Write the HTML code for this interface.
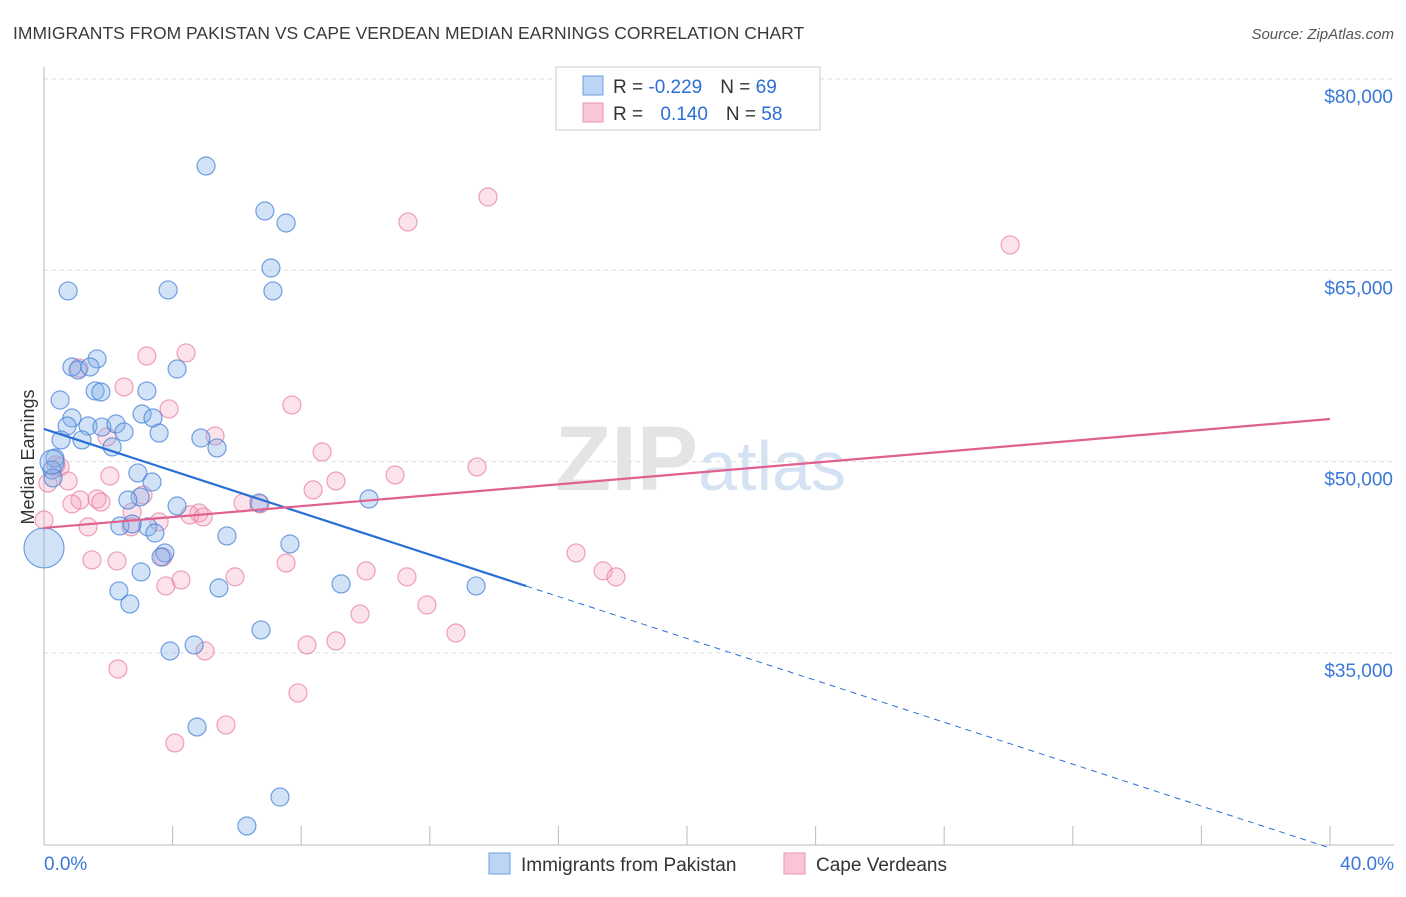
<!DOCTYPE html>
<html><head><meta charset="utf-8"><style>
body{margin:0;background:#fff;font-family:"Liberation Sans",sans-serif;}
svg text{font-family:"Liberation Sans",sans-serif;}
</style></head><body>
<svg id="chart" width="1406" height="892" xmlns="http://www.w3.org/2000/svg">
<text x="13" y="39" font-size="17.5" fill="#3a3a3a">IMMIGRANTS FROM PAKISTAN VS CAPE VERDEAN MEDIAN EARNINGS CORRELATION CHART</text>
<text x="1394" y="39" font-size="15" fill="#555" text-anchor="end" font-style="italic">Source: ZipAtlas.com</text>
<text x="555" y="490" font-size="92" fill="#e4e4e4" font-family="Liberation Serif" font-weight="bold">ZIP<tspan fill="#d4e2f3" font-family="Liberation Sans" font-weight="normal" font-size="70">atlas</tspan></text>
<text transform="translate(34,457) rotate(-90)" font-size="18" fill="#333" text-anchor="middle">Median Earnings</text>
<g id="grid"></g><g id="axes"></g><g id="pts"></g><g id="lines"></g>
<g>
<rect x="556" y="67" width="264" height="63" fill="#fff" stroke="#ccc"/>
<rect x="583" y="76" width="20" height="19" fill="#bcd5f5" stroke="#6d9de0"/>
<rect x="583" y="103" width="20" height="19" fill="#f9c6d5" stroke="#eb95b2"/>
<text x="613" y="93" font-size="19" fill="#333">R = <tspan fill="#2a6fd6">-0.229</tspan><tspan dx="18">N = </tspan><tspan fill="#2a6fd6">69</tspan></text>
<text x="613" y="120" font-size="19" fill="#333">R = <tspan fill="#2a6fd6" dx="12">0.140</tspan><tspan dx="18">N = </tspan><tspan fill="#2a6fd6">58</tspan></text>
</g>
<g>
<rect x="489" y="853" width="21" height="21" fill="#bcd5f5" stroke="#6d9de0"/>
<text x="521" y="871" font-size="19" fill="#333">Immigrants from Pakistan</text>
<rect x="784" y="853" width="21" height="21" fill="#f9c6d5" stroke="#eb95b2"/>
<text x="816" y="871" font-size="19" fill="#333">Cape Verdeans</text>
</g>
</svg>
<script>
const yTicks=[35000,50000,65000,80000];
const yTickLabels=["$35,000","$50,000","$65,000","$80,000"];
const xTicks=[0,4,8,12,16,20,24,28,32,36,40];
const xEndLabels=["0.0%","40.0%"];
const blueX=[5.04,6.87,7.53,7.06,0.75,3.86,7.12,1.65,0.87,1.06,1.43,4.14,1.59,1.77,3.20,0.50,3.05,3.39,0.87,0.72,1.37,1.80,2.24,2.49,1.18,0.53,3.58,4.88,5.38,2.12,0.34,0.25,2.92,0.28,3.36,2.99,2.61,10.11,4.14,6.69,3.23,2.36,2.74,3.45,5.69,7.65,3.76,3.64,3.02,9.24,13.44,5.44,2.33,2.67,6.75,4.67,3.92,4.76,7.34,6.31,0,0.25];
const blueY=[73180,69650,68710,65180,63380,63460,63380,58050,57420,57190,57420,57260,55540,55460,55540,54830,53730,53420,53420,52790,52790,52710,52950,52320,51700,51700,52240,51850,51070,51150,50280,49340,49110,48720,48400,47230,46990,47070,46520,46760,44880,44950,45110,44400,44170,43540,42840,42520,41350,40410,40250,40090,39860,38840,36800,35620,35150,29190,23700,21430,43230,49970];
const blueR=[9,9,9,9,9,9,9,9,9,9,9,9,9,9,9,9,9,9,9,9,9,9,9,9,9,9,9,9,9,9,9,9,9,9,9,9,9,9,9,9,9,9,9,9,9,9,9,9,9,9,9,9,9,9,9,9,9,9,9,9,20,12];
const pinkX=[13.81,11.32,30.05,4.42,3.20,2.49,1.09,7.71,3.89,5.32,1.96,8.65,0.50,13.47,10.92,9.08,8.37,0.75,2.05,3.08,1.65,1.12,1.77,0.87,6.19,6.72,4.82,4.54,4.95,2.74,2.71,1.37,0,3.70,1.49,2.27,16.55,17.39,17.79,10.02,11.29,7.53,5.94,4.26,3.79,11.91,9.83,12.81,9.08,8.18,5.01,2.30,7.90,5.66,4.07,0.12,0.37,3.58];
const pinkY=[70750,68790,66990,58520,58280,55850,57340,54440,54130,52010,51930,50760,49580,49580,48950,48480,47780,48480,48870,47380,47070,46990,46830,46680,46760,46680,45970,45820,45660,46050,44880,44880,45420,42520,42290,42210,42840,41430,40960,41430,40960,42050,40960,40720,40250,38760,38050,36560,35940,35620,35150,33740,31860,29350,27940,48320,49740,45270];
const blueFit=[52560,-821.4];
const pinkFit=[44800,213.5];
const NS="http://www.w3.org/2000/svg";
const X=v=>44+v/40*1286;
const Y=v=>79+(80000-v)/15000*191.3;
function mk(tag,attrs,parent){const e=document.createElementNS(NS,tag);for(const k in attrs)e.setAttribute(k,attrs[k]);document.getElementById(parent).appendChild(e);return e;}
yTicks.forEach((t,i)=>{
 const l=mk('line',{x1:44,x2:1394,y1:Y(t),y2:Y(t),stroke:'#ddd','stroke-dasharray':'4,4'},'grid');
 
 
 const tx=mk('text',{x:1393,y:Y(t)+24,'font-size':19,fill:'#3a78d8','text-anchor':'end'},'axes');
 tx.textContent=yTickLabels[i];
 
 
});
const topG=mk('line',{x1:44,x2:1394,y1:79,y2:79,stroke:'#ddd','stroke-dasharray':'4,4'},'grid');


const ya=mk('line',{x1:44,x2:44,y1:67,y2:845,stroke:'#bbb'},'axes');


const xa=mk('line',{x1:44,x2:1394,y1:845,y2:845,stroke:'#bbb'},'axes');


xTicks.forEach(t=>{
 const l=mk('line',{x1:X(t),x2:X(t),y1:826,y2:845,stroke:'#bbb'},'axes');
 
 
});
const xl0=mk('text',{x:44,y:870,'font-size':19,fill:'#3a78d8'},'axes');
xl0.textContent=xEndLabels[0];


const xl1=mk('text',{x:1394,y:870,'font-size':19,fill:'#3a78d8','text-anchor':'end'},'axes');
xl1.textContent=xEndLabels[1];


pinkX.forEach((v,i)=>{
 const c=mk('circle',{cx:X(v),cy:Y(pinkY[i]),r:9,fill:'rgba(244,160,188,0.3)',stroke:'rgba(232,130,165,0.75)','stroke-width':1.2},'pts');
 
 
});
blueX.forEach((v,i)=>{
 const c=mk('circle',{cx:X(v),cy:Y(blueY[i]),r:blueR[i],fill:'rgba(130,175,232,0.35)',stroke:'rgba(70,130,215,0.75)','stroke-width':1.2},'pts');
 
 
});
const bl=mk('line',{x1:X(0),y1:Y(blueFit[0]),x2:X(15),y2:Y(blueFit[0]+blueFit[1]*15),stroke:'#2a6fd6','stroke-width':2.2},'lines');


const bd=mk('line',{x1:X(15),y1:Y(blueFit[0]+blueFit[1]*15),x2:X(40),y2:Y(blueFit[0]+blueFit[1]*40),stroke:'#2a6fd6','stroke-width':1,'stroke-dasharray':'6,5'},'lines');


const pl=mk('line',{x1:X(0),y1:Y(pinkFit[0]),x2:X(40),y2:Y(pinkFit[0]+pinkFit[1]*40),stroke:'#e0608e','stroke-width':2.2},'lines');


</script>
</body></html>
